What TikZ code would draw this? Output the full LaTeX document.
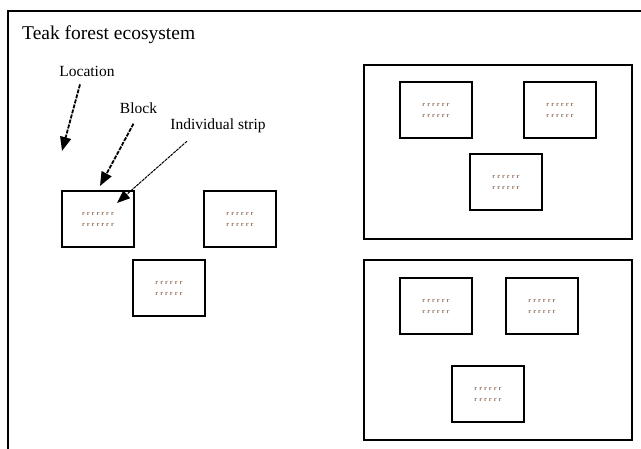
\documentclass[tikz,border=0pt]{standalone}
\usepackage{fontspec}
\setmainfont{Liberation Serif}
\usetikzlibrary{arrows.meta}
\definecolor{tinytxt}{RGB}{150,115,95}
\begin{document}
\begin{tikzpicture}[x=1pt,y=-1pt,
  frame/.style={draw=black,line width=2pt},
  plot/.style={draw=black,line width=2pt,minimum width=72pt,minimum height=56pt,inner sep=0pt,
    font=\fontsize{6.5}{11}\selectfont\bfseries\addfontfeature{LetterSpace=30},text=tinytxt,align=center},
  lbl/.style={font=\fontsize{15.5}{17}\selectfont,inner sep=0pt},
  ptr/.style={line width=1.8pt,dash pattern=on 4pt off 1.2pt,-{Triangle[length=14pt,width=11pt]}},
  ptrthin/.style={line width=1pt,dash pattern=on 3pt off 0.8pt,-{Triangle[length=13pt,width=10pt]}}]
\useasboundingbox (0,0) rectangle (641,449);
\fill[white] (0,0) rectangle (641,449);
% outer open frame
\draw[frame] (8,449) -- (8,11) -- (641,11);
% title
\node[anchor=west,inner sep=0pt,font=\fontsize{19.5}{21}\selectfont] (title) at (22,35) {Teak forest ecosystem};
% labels
\node[lbl] (loc) at (87,71) {Location};
\node[lbl] (blk) at (138.5,108) {Block};
\node[lbl] (ist) at (218,126) {Individual strip};
% left group
\node[plot] (a) at (98,219) {rrrrrrr\\rrrrrrr};
\node[plot] (b) at (240,219) {rrrrrr\\rrrrrr};
\node[plot] (c) at (169,288) {rrrrrr\\rrrrrr};
% right top location
\node[frame,minimum width=268pt,minimum height=174pt,inner sep=0pt] (loc1) at (498,152) {};
\node[plot] (d) at (436,110) {rrrrrr\\rrrrrr};
\node[plot] (e) at (560,110) {rrrrrr\\rrrrrr};
\node[plot] (f) at (506,182) {rrrrrr\\rrrrrr};
% right bottom location
\node[frame,minimum width=268pt,minimum height=180pt,inner sep=0pt] (loc2) at (498,350) {};
\node[plot] (g) at (436,306) {rrrrrr\\rrrrrr};
\node[plot] (h) at (542,306) {rrrrrr\\rrrrrr};
\node[plot] (i) at (488,394) {rrrrrr\\rrrrrr};
% arrow tips
\coordinate (tloc) at (62,151);
\coordinate (tblk) at (100,186);
\coordinate (tist) at (117,203);
\draw[ptr] ([xshift=-7pt,yshift=-8pt]loc.south) -- (tloc);
\draw[ptr] ([xshift=-5pt,yshift=-10pt]blk.south) -- (tblk);
\draw[ptrthin] ([xshift=-31pt,yshift=-8pt]ist.south) -- (tist);
\end{tikzpicture}
\end{document}
